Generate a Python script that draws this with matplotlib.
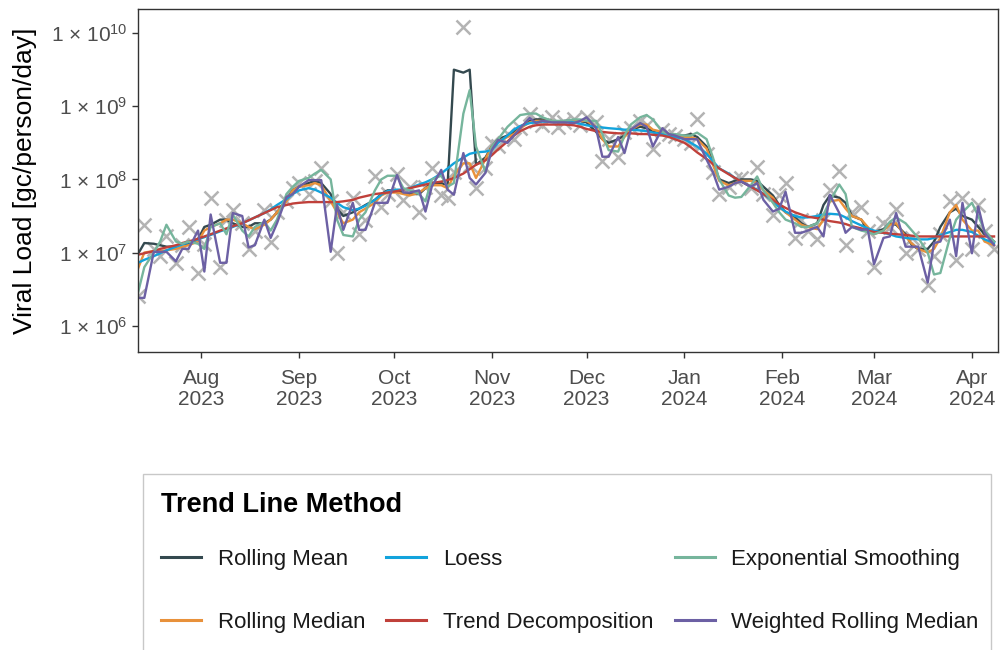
import numpy as np
import pandas as pd
import matplotlib
matplotlib.use('Agg')
import matplotlib.pyplot as plt
import matplotlib.dates as mdates
from matplotlib.lines import Line2D
from matplotlib.patches import Rectangle

plt.rcParams['font.family'] = ['Liberation Sans', 'DejaVu Sans']
plt.rcParams['mathtext.default'] = 'regular'

# sampling dates (Mon / Wed / Fri)
dates = [
    '2023-07-12', '2023-07-14', '2023-07-17', '2023-07-19', '2023-07-21', '2023-07-24', '2023-07-26', '2023-07-28', '2023-07-31',
    '2023-08-02', '2023-08-04', '2023-08-07', '2023-08-09', '2023-08-11', '2023-08-14', '2023-08-16', '2023-08-18', '2023-08-21',
    '2023-08-23', '2023-08-25', '2023-08-28', '2023-08-30', '2023-09-01', '2023-09-04', '2023-09-06', '2023-09-08', '2023-09-11',
    '2023-09-13', '2023-09-15', '2023-09-18', '2023-09-20', '2023-09-22', '2023-09-25', '2023-09-27', '2023-09-29', '2023-10-02',
    '2023-10-04', '2023-10-06', '2023-10-09', '2023-10-11', '2023-10-13', '2023-10-16', '2023-10-18', '2023-10-20', '2023-10-23',
    '2023-10-25', '2023-10-27', '2023-10-30', '2023-11-01', '2023-11-03', '2023-11-06', '2023-11-08', '2023-11-10', '2023-11-13',
    '2023-11-15', '2023-11-17', '2023-11-20', '2023-11-22', '2023-11-24', '2023-11-27', '2023-11-29', '2023-12-01', '2023-12-04',
    '2023-12-06', '2023-12-08', '2023-12-11', '2023-12-13', '2023-12-15', '2023-12-18', '2023-12-20', '2023-12-22', '2023-12-25',
    '2023-12-27', '2023-12-29', '2024-01-01', '2024-01-03', '2024-01-05', '2024-01-08', '2024-01-10', '2024-01-12', '2024-01-15',
    '2024-01-17', '2024-01-19', '2024-01-22', '2024-01-24', '2024-01-26', '2024-01-29', '2024-01-31', '2024-02-02', '2024-02-05',
    '2024-02-07', '2024-02-09', '2024-02-12', '2024-02-14', '2024-02-16', '2024-02-19', '2024-02-21', '2024-02-23', '2024-02-26',
    '2024-02-28', '2024-03-01', '2024-03-04', '2024-03-06', '2024-03-08', '2024-03-11', '2024-03-13', '2024-03-15', '2024-03-18',
    '2024-03-20', '2024-03-22', '2024-03-25', '2024-03-27', '2024-03-29', '2024-04-01', '2024-04-03', '2024-04-05', '2024-04-08',
]

# all loads below are log10(gc/person/day)
observed = [
    6.40, 7.38, 7.05, 6.95, 7.22, 6.86, 7.10, 7.35, 6.72, 7.12, 7.75, 6.80, 7.45, 7.58, 7.40, 7.05, 7.30, 7.58,
    7.15, 7.55, 7.70, 7.88, 7.95, 7.80, 7.98, 8.15, 7.70, 7.00, 7.55, 7.75, 7.25, 7.45, 8.05, 7.62, 7.80, 8.08,
    7.72, 7.90, 7.55, 7.90, 8.15, 7.78, 7.75, 8.10, 10.08, 8.20, 7.88, 8.15, 8.50, 8.45, 8.62, 8.55, 8.70, 8.90,
    8.80, 8.75, 8.85, 8.72, 8.78, 8.82, 8.75, 8.85, 8.78, 8.25, 8.55, 8.30, 8.65, 8.70, 8.80, 8.75, 8.42, 8.68,
    8.62, 8.60, 8.55, 8.50, 8.82, 8.35, 8.10, 7.80, 7.90, 8.00, 8.02, 7.88, 8.17, 7.80, 7.52, 7.78, 7.95, 7.20,
    7.45, 7.30, 7.18, 7.45, 7.85, 8.12, 7.10, 7.55, 7.62, 7.30, 6.80, 7.40, 7.35, 7.60, 7.00, 7.20, 7.05, 6.55,
    6.95, 7.25, 7.70, 6.90, 7.75, 7.05, 7.65, 7.30, 7.05,
]
rolling_mean = [
    6.98, 7.13, 7.12, 7.10, 7.08, 7.08, 7.12, 7.12, 7.18, 7.35, 7.38, 7.45, 7.45, 7.40, 7.35, 7.35, 7.40, 7.40,
    7.45, 7.55, 7.72, 7.85, 7.90, 7.95, 7.98, 7.95, 7.80, 7.60, 7.50, 7.55, 7.60, 7.65, 7.72, 7.80, 7.85, 7.85,
    7.82, 7.80, 7.80, 7.88, 7.95, 7.95, 7.92, 9.50, 9.46, 9.50, 8.20, 8.30, 8.45, 8.55, 8.60, 8.65, 8.72, 8.80,
    8.82, 8.82, 8.80, 8.78, 8.80, 8.80, 8.80, 8.78, 8.65, 8.55, 8.50, 8.55, 8.60, 8.68, 8.72, 8.70, 8.65, 8.62,
    8.62, 8.60, 8.60, 8.62, 8.58, 8.45, 8.25, 8.00, 7.95, 7.98, 8.00, 8.00, 7.98, 7.90, 7.78, 7.65, 7.55, 7.48,
    7.40, 7.35, 7.40, 7.65, 7.78, 7.75, 7.68, 7.50, 7.45, 7.30, 7.28, 7.32, 7.40, 7.38, 7.25, 7.10, 7.05, 7.05,
    7.15, 7.35, 7.55, 7.60, 7.50, 7.45, 7.35, 7.25, 7.15,
]
rolling_median = [
    6.78, 7.00, 7.02, 7.02, 7.03, 7.05, 7.08, 7.10, 7.15, 7.30, 7.35, 7.40, 7.45, 7.45, 7.40, 7.35, 7.32, 7.38,
    7.45, 7.55, 7.70, 7.85, 7.90, 7.92, 7.95, 7.92, 7.70, 7.55, 7.40, 7.45, 7.55, 7.60, 7.68, 7.78, 7.82, 7.82,
    7.80, 7.78, 7.82, 7.88, 7.92, 7.92, 7.88, 8.05, 8.22, 8.22, 8.02, 8.28, 8.45, 8.52, 8.58, 8.62, 8.70, 8.78,
    8.80, 8.80, 8.80, 8.78, 8.78, 8.80, 8.80, 8.80, 8.72, 8.55, 8.45, 8.45, 8.58, 8.68, 8.75, 8.75, 8.68, 8.65,
    8.62, 8.60, 8.58, 8.58, 8.55, 8.42, 8.20, 7.98, 7.92, 7.95, 7.98, 7.98, 7.95, 7.85, 7.75, 7.62, 7.55, 7.45,
    7.38, 7.35, 7.32, 7.45, 7.70, 7.72, 7.60, 7.50, 7.45, 7.35, 7.25, 7.30, 7.38, 7.40, 7.22, 7.12, 7.05, 7.00,
    7.05, 7.20, 7.55, 7.65, 7.45, 7.30, 7.30, 7.15, 7.10,
]
loess = [
    6.86, 6.90, 6.95, 6.99, 7.03, 7.08, 7.11, 7.14, 7.18, 7.21, 7.24, 7.29, 7.32, 7.35, 7.40, 7.44, 7.48, 7.54,
    7.59, 7.65, 7.73, 7.80, 7.85, 7.88, 7.86, 7.82, 7.75, 7.68, 7.62, 7.58, 7.60, 7.64, 7.72, 7.79, 7.84, 7.86,
    7.86, 7.88, 7.93, 7.96, 8.00, 8.08, 8.15, 8.22, 8.30, 8.35, 8.37, 8.38, 8.40, 8.50, 8.60, 8.68, 8.73, 8.77,
    8.78, 8.79, 8.79, 8.79, 8.79, 8.78, 8.76, 8.74, 8.72, 8.71, 8.70, 8.69, 8.68, 8.68, 8.67, 8.66, 8.64, 8.62,
    8.60, 8.58, 8.55, 8.50, 8.45, 8.35, 8.25, 8.15, 8.08, 8.02, 7.97, 7.90, 7.86, 7.80, 7.70, 7.62, 7.56, 7.50,
    7.48, 7.48, 7.50, 7.52, 7.53, 7.52, 7.48, 7.43, 7.37, 7.33, 7.30, 7.27, 7.25, 7.22, 7.20, 7.19, 7.18, 7.18,
    7.20, 7.24, 7.28, 7.31, 7.31, 7.28, 7.23, 7.18, 7.13,
]
exp_smoothing = [
    6.45, 6.80, 7.00, 7.15, 7.38, 7.15, 7.12, 7.15, 7.12, 7.05, 7.35, 7.40, 7.25, 7.52, 7.30, 7.22, 7.35, 7.42,
    7.30, 7.45, 7.80, 7.90, 7.98, 8.02, 8.08, 8.13, 8.00, 7.45, 7.24, 7.22, 7.45, 7.55, 7.85, 8.00, 8.05, 8.05,
    7.88, 7.85, 7.80, 7.70, 8.00, 8.05, 7.90, 7.95, 8.90, 9.22, 8.45, 8.10, 8.45, 8.55, 8.72, 8.80, 8.88, 8.90,
    8.90, 8.85, 8.80, 8.80, 8.80, 8.82, 8.82, 8.80, 8.80, 8.62, 8.40, 8.38, 8.60, 8.75, 8.85, 8.88, 8.82, 8.65,
    8.62, 8.62, 8.60, 8.60, 8.64, 8.55, 8.30, 8.00, 7.78, 7.75, 7.76, 7.92, 8.04, 7.85, 7.68, 7.55, 7.45, 7.40,
    7.35, 7.35, 7.40, 7.52, 7.70, 7.93, 7.80, 7.35, 7.30, 7.28, 7.25, 7.30, 7.42, 7.48, 7.40, 7.30, 7.20, 7.00,
    6.70, 6.72, 7.20, 7.45, 7.55, 7.68, 7.50, 7.30, 7.15,
]
trend_decomposition = [
    6.97, 6.99, 7.02, 7.05, 7.07, 7.10, 7.13, 7.15, 7.19, 7.22, 7.25, 7.30, 7.33, 7.36, 7.40, 7.44, 7.48, 7.54,
    7.58, 7.62, 7.65, 7.67, 7.68, 7.69, 7.69, 7.69, 7.69, 7.69, 7.70, 7.72, 7.75, 7.77, 7.80, 7.81, 7.82, 7.84,
    7.86, 7.88, 7.91, 7.93, 7.95, 7.97, 7.99, 8.02, 8.08, 8.14, 8.20, 8.26, 8.33, 8.41, 8.52, 8.60, 8.66, 8.72,
    8.74, 8.75, 8.75, 8.75, 8.75, 8.74, 8.72, 8.69, 8.66, 8.65, 8.64, 8.63, 8.63, 8.63, 8.62, 8.62, 8.61, 8.60,
    8.58, 8.55, 8.50, 8.44, 8.37, 8.28, 8.21, 8.15, 8.07, 8.02, 7.97, 7.90, 7.85, 7.80, 7.72, 7.66, 7.61, 7.55,
    7.52, 7.49, 7.47, 7.45, 7.43, 7.41, 7.39, 7.36, 7.33, 7.30, 7.28, 7.27, 7.26, 7.25, 7.24, 7.23, 7.22, 7.22,
    7.22, 7.22, 7.22, 7.22, 7.22, 7.22, 7.22, 7.22, 7.22,
]
weighted_rolling_median = [
    6.38, 6.38, 7.01, 7.01, 7.01, 6.88, 7.05, 7.05, 7.30, 6.74, 7.52, 6.86, 6.86, 7.54, 7.50, 7.07, 7.10, 7.45,
    7.20, 7.40, 7.76, 7.80, 7.90, 7.99, 7.99, 7.99, 7.01, 7.65, 7.31, 7.68, 7.31, 7.31, 7.68, 7.68, 7.68, 8.06,
    7.82, 7.82, 7.85, 7.56, 7.90, 8.13, 7.86, 7.79, 8.36, 8.02, 7.93, 8.09, 8.40, 8.54, 8.50, 8.60, 8.70, 8.84,
    8.77, 8.80, 8.78, 8.78, 8.78, 8.77, 8.80, 8.85, 8.70, 8.31, 8.31, 8.58, 8.36, 8.68, 8.77, 8.72, 8.45, 8.70,
    8.62, 8.60, 8.55, 8.55, 8.55, 8.27, 8.10, 7.86, 7.90, 7.95, 7.97, 7.90, 7.95, 7.72, 7.56, 7.60, 7.83, 7.27,
    7.27, 7.30, 7.35, 7.22, 7.79, 7.54, 7.27, 7.35, 7.31, 7.32, 6.84, 7.20, 7.22, 7.54, 7.08, 7.08, 7.08, 6.59,
    7.13, 7.15, 7.45, 6.95, 7.68, 6.99, 7.63, 7.27, 7.10,
]

methods = ['Rolling Mean', 'Rolling Median', 'Loess', 'Trend Decomposition',
           'Exponential Smoothing', 'Weighted Rolling Median']
series = [rolling_mean, rolling_median, loess, trend_decomposition,
          exp_smoothing, weighted_rolling_median]
colors = ['#34494F', '#E8913B', '#12A3DC', '#C0403A', '#76B59C', '#6C60A4']

x = pd.to_datetime(dates)

fig = plt.figure(figsize=(10.03, 6.5), dpi=100)
ax = fig.add_axes([138 / 1003, 1 - 352 / 650, 860 / 1003, 343 / 650])

ax.plot(x, 10 ** np.array(observed), linestyle='none', marker='x', markersize=10,
        markeredgewidth=1.8, color='#b3b3b3', zorder=1)
for name, vals, c in zip(methods, series, colors):
    ax.plot(x, 10 ** np.array(vals), color=c, lw=1.7, label=name, zorder=2)

ax.set_yscale('log')
ax.set_ylim(10 ** 5.64, 10 ** 10.33)
ax.set_xlim(pd.Timestamp('2023-07-12'), pd.Timestamp('2024-04-09 06:00'))

yt = [1e6, 1e7, 1e8, 1e9, 1e10]
ax.set_yticks(yt)
ax.set_yticklabels(['1 × 10$^{%d}$' % p for p in [6, 7, 8, 9, 10]])
ax.yaxis.set_minor_locator(matplotlib.ticker.NullLocator())

ax.xaxis.set_major_locator(mdates.MonthLocator())
ax.xaxis.set_major_formatter(mdates.DateFormatter('%b\n%Y'))
ax.xaxis.set_minor_locator(matplotlib.ticker.NullLocator())

ax.tick_params(axis='both', which='major', length=4, width=1, color='#333333',
               labelcolor='#4d4d4d', labelsize=15)
ax.tick_params(axis='x', pad=8)
for lab in ax.get_xticklabels():
    lab.set_linespacing(1.15)
for sp in ax.spines.values():
    sp.set_color('#333333')
    sp.set_linewidth(1)

ax.set_ylabel('Viral Load [gc/person/day]', fontsize=19, color='black', labelpad=10)

# legend box runs past the bottom edge
fig.patches.append(Rectangle((143 / 1003, -0.1), 848 / 1003, 1 - 474 / 650 + 0.1,
                             transform=fig.transFigure, facecolor='white',
                             edgecolor='#c8c8c8', lw=1))

handles = [Line2D([], [], color=c, lw=2.2) for c in colors]
leg = fig.legend(handles, methods, ncol=3, loc='upper left',
                 bbox_to_anchor=(161 / 1003, 1 - 492 / 650),
                 frameon=False, fontsize=16, title='Trend Line Method',
                 title_fontproperties={'weight': 'bold', 'size': 19.5},
                 alignment='left', handlelength=1.8, handletextpad=0.75,
                 labelspacing=1.9, columnspacing=0.95, borderpad=0, borderaxespad=0)
for t in leg.get_texts():
    t.set_color('#1a1a1a')
leg._legend_box.sep = 22

fig.savefig('out.png', dpi=100)
